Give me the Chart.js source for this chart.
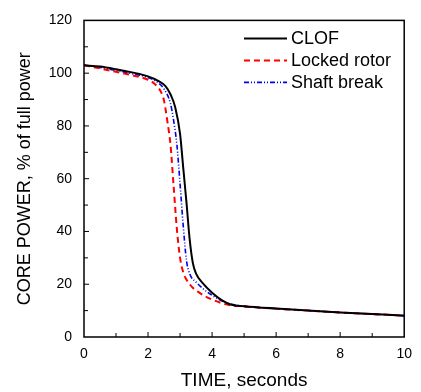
<!DOCTYPE html>
<html>
<head>
<meta charset="utf-8">
<script src="https://cdn.jsdelivr.net/npm/chart.js@4"></script>
<style>
  html, body { margin: 0; padding: 0; background: #fff; }
  #wrap { width: 421px; height: 392px; }
</style>
</head>
<body>
<div id="wrap"><canvas id="chart" width="421" height="392"></canvas></div>
<script>
// Series data
const clofTime = [0, 0.5, 1, 1.5, 2, 2.3, 2.55, 2.7, 2.85, 3.0, 3.1, 3.2, 3.3, 3.4, 3.5, 3.7, 4.0, 4.3, 4.6, 5, 6, 7, 8, 9, 10];
const clofPower = [103, 102.5, 101.5, 100.3, 98.8, 97.2, 95, 92, 87, 77, 64, 51, 37, 28, 24, 20.5, 16.8, 14, 12.2, 11.7, 10.8, 10, 9.3, 8.7, 8.1];

const lockedTime = [0, 0.5, 1, 1.5, 2, 2.2, 2.4, 2.5, 2.6, 2.7, 2.8, 2.9, 3.0, 3.1, 3.3, 3.6, 4.0, 4.5, 5, 6, 7, 8, 9, 10];
const lockedPower = [103, 101.8, 100.5, 99.2, 97.5, 96, 93, 89.5, 82, 73, 57, 41, 30, 24.5, 20, 16.8, 14.2, 12.2, 11.6, 10.7, 10, 9.3, 8.7, 8.1];

const shaftTime = [0, 0.5, 1, 1.5, 2, 2.3, 2.5, 2.7, 2.8, 2.9, 3.0, 3.1, 3.2, 3.3, 3.5, 4.0, 4.5, 5, 6, 7, 8, 9, 10];
const shaftPower = [103, 102.2, 101, 99.8, 98.3, 96.5, 94, 88.5, 82, 73, 58, 42, 29, 24, 20.8, 15.8, 12.8, 11.7, 10.7, 10, 9.3, 8.7, 8.1];

const seriesNames = ['CLOF', 'Locked rotor', 'Shaft break'];
const xTicks = [0, 2, 4, 6, 8, 10];
const yTicks = [0, 20, 40, 60, 80, 100, 120];

function toPoints(xs, ys) {
    return xs.map((x, i) => ({ x: x, y: ys[i] }));
}

// box, inward ticks and inside legend
const frameAndLegend = {
    id: 'frameAndLegend',
    afterDatasetsDraw(chart) {
        const { ctx, chartArea: a, scales } = chart;
        ctx.save();
        ctx.strokeStyle = '#000';
        ctx.lineWidth = 1.5;
        ctx.strokeRect(a.left, a.top, a.right - a.left, a.bottom - a.top);

        ctx.lineWidth = 1;
        ctx.beginPath();
        for (let v = 1; v < 10; v++) {
            const px = scales.x.getPixelForValue(v);
            const len = v % 2 === 0 ? 5 : 4;
            ctx.moveTo(px, a.bottom);
            ctx.lineTo(px, a.bottom - len);
        }
        for (let v = 10; v < 120; v += 10) {
            const py = scales.y.getPixelForValue(v);
            const len = v % 20 === 0 ? 5 : 4;
            ctx.moveTo(a.left, py);
            ctx.lineTo(a.left + len, py);
        }
        ctx.stroke();

        // legend
        const x0 = a.left + 160, x1 = a.left + 203;
        ctx.font = '18px "Liberation Sans", Arial, sans-serif';
        ctx.textBaseline = 'middle';
        chart.data.datasets.forEach((ds, i) => {
            const y = a.top + 18 + i * 22;
            ctx.strokeStyle = ds.borderColor;
            ctx.lineWidth = ds.borderWidth;
            ctx.setLineDash(ds.borderDash || []);
            ctx.beginPath();
            ctx.moveTo(x0, y);
            ctx.lineTo(x1, y);
            ctx.stroke();
            ctx.setLineDash([]);
            ctx.fillStyle = '#000';
            ctx.fillText(ds.label, x1 + 4, y + 1);
        });
        ctx.restore();
    }
};

const font = '"Liberation Sans", Arial, sans-serif';

new Chart(document.getElementById('chart'), {
    type: 'line',
    data: {
        datasets: [
            {
                label: seriesNames[0],
                data: toPoints(clofTime, clofPower),
                borderColor: '#000000',
                borderWidth: 2,
                pointRadius: 0,
                cubicInterpolationMode: 'monotone'
            },
            {
                label: seriesNames[1],
                data: toPoints(lockedTime, lockedPower),
                borderColor: '#ff0000',
                borderWidth: 2,
                borderDash: [6, 4],
                pointRadius: 0,
                cubicInterpolationMode: 'monotone'
            },
            {
                label: seriesNames[2],
                data: toPoints(shaftTime, shaftPower),
                borderColor: '#0000ee',
                borderWidth: 1.6,
                borderDash: [5, 2, 1, 2, 1, 2],
                pointRadius: 0,
                cubicInterpolationMode: 'monotone'
            }
        ]
    },
    options: {
        responsive: false,
        animation: false,
        layout: { padding: { top: 16, right: 11, left: 0, bottom: 0 } },
        plugins: {
            legend: { display: false },
            tooltip: { enabled: false }
        },
        scales: {
            x: {
                type: 'linear',
                min: 0,
                max: 10,
                afterBuildTicks: (s) => { s.ticks = xTicks.map(v => ({ value: v })); },
                afterFit: (s) => { s.height = 55; },
                grid: { display: false, drawTicks: false },
                border: { display: false },
                ticks: { color: '#000', font: { family: font, size: 14 }, padding: 9, maxRotation: 0 },
                title: {
                    display: true,
                    text: 'TIME, seconds',
                    color: '#000',
                    font: { family: font, size: 19 },
                    padding: { top: 4, bottom: 0 }
                }
            },
            y: {
                type: 'linear',
                min: 0,
                max: 120,
                afterBuildTicks: (s) => { s.ticks = yTicks.map(v => ({ value: v })); },
                afterFit: (s) => { s.width = 84; },
                grid: { display: false, drawTicks: false },
                border: { display: false },
                ticks: { color: '#000', font: { family: font, size: 14 }, padding: 12 },
                title: {
                    display: true,
                    text: 'CORE POWER, % of full power',
                    color: '#000',
                    font: { family: font, size: 18 },
                    padding: { top: 14, bottom: 0 }
                }
            }
        }
    },
    plugins: [frameAndLegend]
});
</script>
</body>
</html>
